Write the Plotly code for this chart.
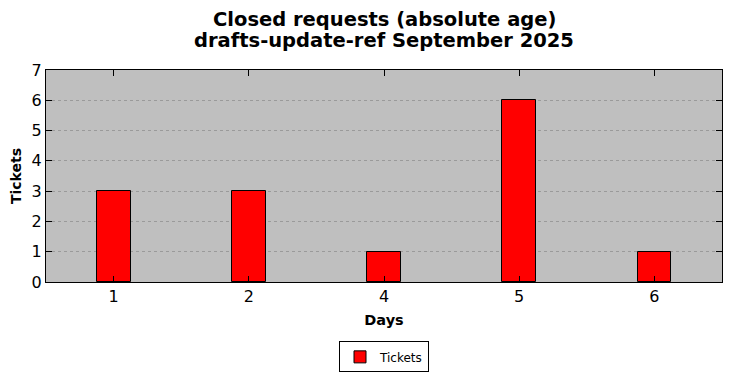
import plotly.graph_objects as go

days = ["1", "2", "4", "5", "6"]
tickets = [3, 3, 1, 6, 1]
y_ticks = [0, 1, 2, 3, 4, 5, 6, 7]
title_lines = ["Closed requests (absolute age)", "drafts-update-ref September 2025"]

W, H = 732, 378
M_L, M_R, M_T, M_B = 46, 10, 70, 96
paper_h = H - M_T - M_B
font_family = "DejaVu Sans"

fig = go.Figure()
fig.add_trace(go.Bar(
    x=days, y=tickets, name="Tickets", width=0.25,
    marker=dict(color="#ff0000", line=dict(color="black", width=1)),
))

# two-line bold title, placed as annotations for exact line spacing
for i, line in enumerate(title_lines):
    px_from_top = 19 + 22 * i
    fig.add_annotation(
        text="<b>" + line + "</b>",
        x=0.5, xref="paper", xanchor="center",
        y=((H - px_from_top) - M_B) / paper_h, yref="paper", yanchor="middle",
        showarrow=False,
        font=dict(size=19.5, family=font_family, color="black"),
    )

fig.update_layout(
    width=W, height=H,
    margin=dict(l=M_L, r=M_R, t=M_T, b=M_B, autoexpand=False),
    paper_bgcolor="white", plot_bgcolor="#bfbfbf",
    font=dict(family=font_family, color="black"),
    showlegend=True,
    legend=dict(
        orientation="h", x=0.5, xanchor="center", y=-0.28, yanchor="top",
        bordercolor="black", borderwidth=1, bgcolor="white",
        font=dict(size=12, family=font_family),
    ),
    bargap=0,
)
fig.update_xaxes(
    type="category", range=[-0.5, 4.5], automargin=False,
    ticks="inside", ticklen=6, tickcolor="black", mirror="ticks",
    showline=True, linecolor="black", linewidth=1,
    showgrid=False, tickfont=dict(size=16),
    title=dict(text="<b>Days</b>", font=dict(size=14.5), standoff=9),
)
fig.update_yaxes(
    range=[0, 7], tickvals=y_ticks, automargin=False,
    ticks="inside", ticklen=6, tickcolor="black", mirror="ticks",
    showline=True, linecolor="black", linewidth=1,
    showgrid=True, gridcolor="#9a9a9a", griddash="dot", gridwidth=1,
    zeroline=False, tickfont=dict(size=16),
    title=dict(text="<b>Tickets</b>", font=dict(size=14), standoff=6),
)

fig.write_html(
    "out.html",
    config={"displayModeBar": False},
    post_script="document.body.style.margin='0';document.body.style.overflow='hidden';",
)
